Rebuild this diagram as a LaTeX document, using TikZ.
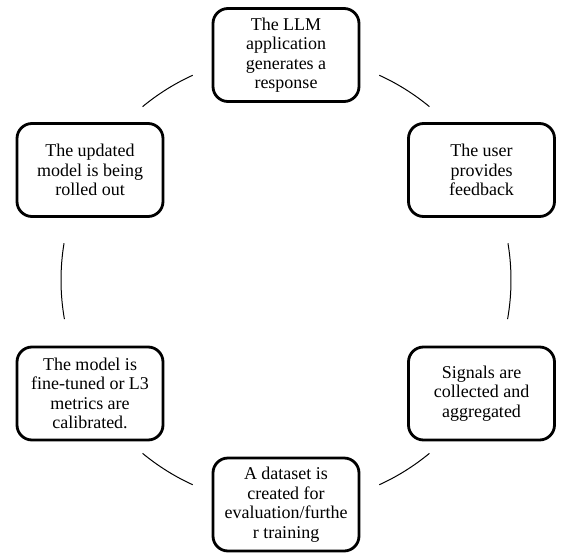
\documentclass[tikz,border=0pt]{standalone}
\usepackage{fontspec}
\setmainfont{Liberation Serif}
\begin{document}
\begin{tikzpicture}[x=1pt,y=1pt,
  stagebox/.style={draw=black, line width=2.8pt, rounded corners=15pt, fill=white,
    minimum width=146pt, minimum height=93pt, align=center, inner sep=0pt,
    font=\fontsize{18}{19.5}\selectfont},
  ring/.style={draw=black, line width=1pt}]
\useasboundingbox (0,0) rectangle (581,-557);
\coordinate (c) at (286,-280);
\node[stagebox] (gen) at (286,-55) {The LLM\\application\\generates a\\response};
\node[stagebox] (fb) at (481.5,-170) {The user\\provides\\feedback};
\node[stagebox] (sig) at (481.5,-393.5) {Signals are\\collected and\\aggregated};
\node[stagebox] (ds) at (286,-504.5) {A dataset is\\created for\\evaluation/furthe\\r training};
\node[stagebox] (ft) at (90,-393.5) {The model is\\fine-tuned or L3\\metrics are\\calibrated.};
\node[stagebox] (ro) at (90,-170) {The updated\\model is being\\rolled out};
\foreach \a/\b in {114.5/129.6, 50.4/65.5, -10/9.4, 294.5/309.6, 230.4/245.5, 170.6/190}{
  \draw[ring] ([shift={(\a:225pt)}]c) arc[start angle=\a, end angle=\b, radius=225pt];
}
\end{tikzpicture}
\end{document}
